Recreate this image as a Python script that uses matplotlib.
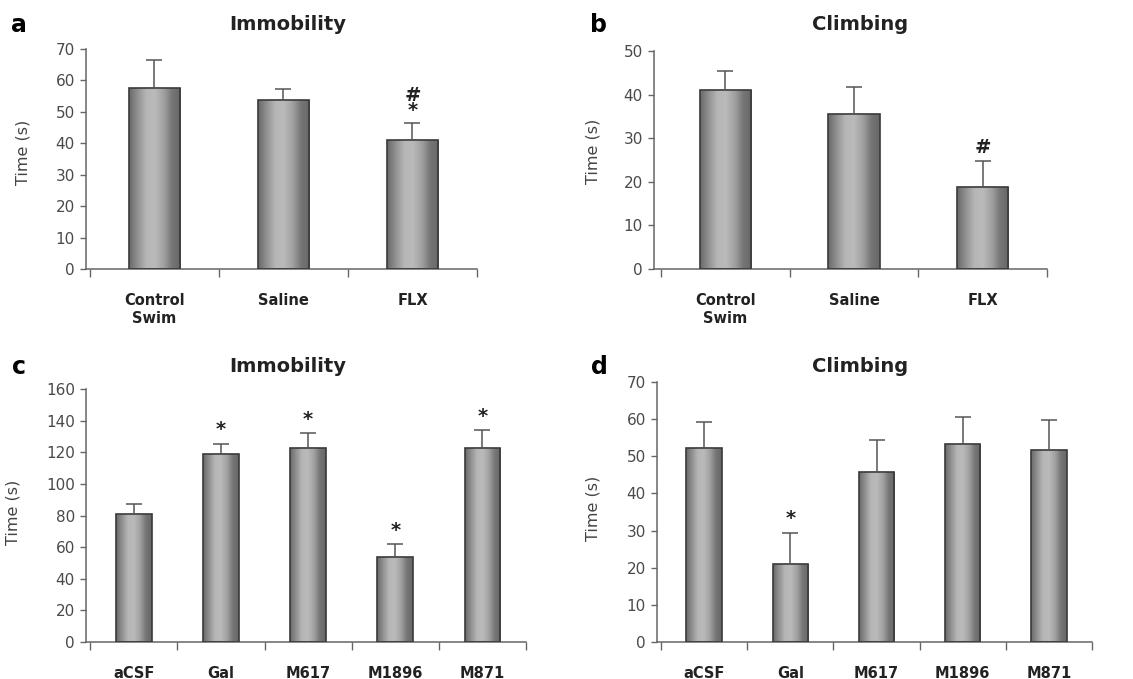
import matplotlib
matplotlib.use('Agg')
import matplotlib.pyplot as plt
from matplotlib.colors import LinearSegmentedColormap
import numpy as np

W, H = 1133, 679

# panel a / b : forced swim, systemic
groups_ab = ['Control\nSwim', 'Saline', 'FLX']
immob_a = [57.7, 53.9, 40.9]
immob_a_err = [8.8, 3.3, 5.5]
climb_b = [41.0, 35.5, 18.9]
climb_b_err = [4.5, 6.3, 5.9]
marks_a = ['', '', '#\n*']
marks_b = ['', '', '#']

# panel c / d : icv galanin ligands
groups_cd = ['aCSF', 'Gal', 'M617', 'M1896', 'M871']
immob_c = [81.2, 119.0, 122.4, 53.5, 122.4]
immob_c_err = [5.9, 6.2, 9.5, 8.2, 11.4]
climb_d = [52.3, 21.0, 45.8, 53.4, 51.7]
climb_d_err = [7.0, 8.4, 8.6, 7.2, 8.1]
marks_c = ['', '*', '*', '*', '*']
marks_d = ['', '*', '', '', '']

grad = LinearSegmentedColormap.from_list(
    'cyl', ['#6a6a6a', '#929292', '#b6b6b6', '#bababa', '#a2a2a2', '#777777', '#666666'])


def px(x, y):
    return x / W, 1 - y / H


def panel(fig, box, labels, vals, errs, marks, ymax, ystep, width, xl, mark_off):
    l, t, r, b = box
    x0, y1 = px(l, t)
    x1, y0 = px(r, b)
    ax = fig.add_axes([x0, y0, x1 - x0, y1 - y0])
    x = np.arange(len(labels))
    bars = ax.bar(x, vals, width=width, color='none', edgecolor='#3a3a3a',
                  linewidth=1.2, zorder=3)
    # cylinder-like shading inside each bar
    g = np.linspace(0, 1, 64).reshape(1, -1)
    for bar in bars:
        bx, bw, bh = bar.get_x(), bar.get_width(), bar.get_height()
        im = ax.imshow(g, cmap=grad, aspect='auto', extent=[bx, bx + bw, 0, bh],
                       zorder=2)
        im.set_clip_path(bar)
    ax.errorbar(x, vals, yerr=[np.zeros(len(vals)), errs], fmt='none',
                ecolor='#555555', elinewidth=1.1, capsize=6, capthick=1.1, zorder=4)
    for xi, v, e, m in zip(x, vals, errs, marks):
        if m:
            ax.text(xi, v + e + mark_off, m, ha='center', va='bottom',
                    fontsize=14, fontweight='bold', color='#222222', linespacing=0.75)
    ax.set_xlim(xl, len(labels) - 0.5)
    ax.set_ylim(0, ymax)
    ax.set_yticks(np.arange(0, ymax + 1, ystep))
    ax.set_xticks(x)
    ax.set_xticklabels(labels, fontsize=10.5, fontweight='bold', color='#222222',
                       linespacing=1.3)
    ax.set_xticks(np.arange(len(labels) + 1) - 0.5, minor=True)
    ax.tick_params(axis='x', which='major', length=0, pad=17)
    ax.tick_params(axis='x', which='minor', length=6, width=1, color='#666666',
                   direction='out')
    ax.tick_params(axis='y', length=4, width=1, color='#666666', labelsize=11,
                   labelcolor='#4a4a4a', pad=4)
    for s in ['top', 'right']:
        ax.spines[s].set_visible(False)
    for s in ['left', 'bottom']:
        ax.spines[s].set_color('#666666')
        ax.spines[s].set_linewidth(1.1)
    ax.set_facecolor('none')
    return ax


fig = plt.figure(figsize=(W / 100, H / 100), dpi=100)
fig.patch.set_facecolor('white')

ax_a = panel(fig, (86, 49, 477, 269), groups_ab, immob_a, immob_a_err, marks_a,
             70, 10, 0.4, -0.53, 1.0)
ax_b = panel(fig, (654, 51, 1047, 269), groups_ab, climb_b, climb_b_err, marks_b,
             50, 10, 0.4, -0.555, 1.0)
ax_c = panel(fig, (86, 389, 526, 642), groups_cd, immob_c, immob_c_err, marks_c,
             160, 20, 0.41, -0.55, 3.0)
ax_d = panel(fig, (657, 382, 1092, 642), groups_cd, climb_d, climb_d_err, marks_d,
             70, 10, 0.41, -0.547, 1.2)

for ax, (lx, ly) in zip([ax_a, ax_b, ax_c, ax_d],
                        [(30, 152), (600, 151), (20, 512), (600, 508)]):
    ax.set_ylabel('Time (s)', fontsize=11.5, color='#444444')
    ax.yaxis.set_label_coords(*px(lx, ly), transform=fig.transFigure)

for letter, title, (lx, ly), (tx, ty) in [
        ('a', 'Immobility', (19, 25), (288, 25)),
        ('b', 'Climbing', (599, 25), (860, 25)),
        ('c', 'Immobility', (19, 367), (288, 367)),
        ('d', 'Climbing', (599, 367), (860, 367))]:
    fig.text(*px(lx, ly), letter, fontsize=17, fontweight='bold',
             ha='center', va='center')
    fig.text(*px(tx, ty), title, fontsize=14, fontweight='bold',
             ha='center', va='center', color='#222222')

fig.savefig('out.png', dpi=100)
plt.close()
